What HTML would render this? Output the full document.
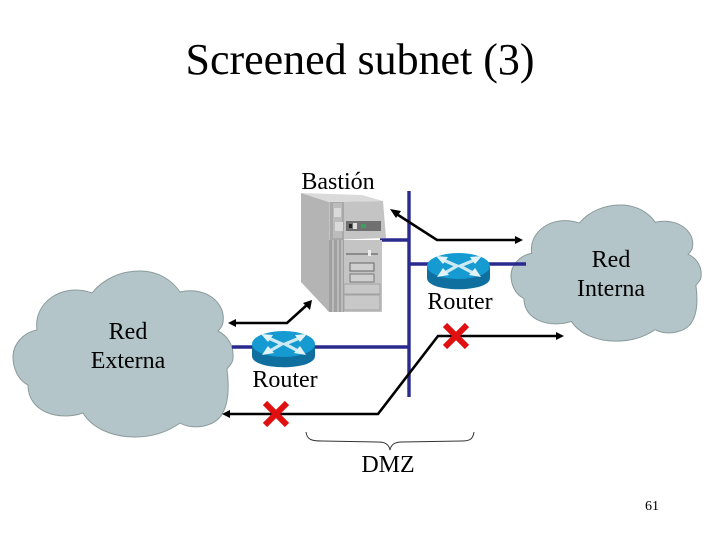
<!DOCTYPE html>
<html>
<head>
<meta charset="utf-8">
<style>
html,body{margin:0;padding:0;background:#fff}
svg{display:block}
text{font-family:"Liberation Serif",serif;fill:#000}
</style>
</head>
<body>
<svg width="720" height="540" viewBox="0 0 720 540" xmlns="http://www.w3.org/2000/svg">
<defs>
<path id="cloud" d="M92,293 C104,278 122,271 140,271 C158,271 172,280 180,292 C206,286 226,303 223,322 C223,326 220,329 218,331 C228,336 234,346 233,358 C233,363 229,366 227,369 C229,385 229,403 222,414 C216,426 194,431 180,423 C166,433 150,437 135,437 C112,437 92,428 83,413 C60,421 28,413 28,385 C18,380 13,368 13,357 C13,344 24,332 37,330 C33,303 62,282 92,293 Z"/>
<g id="router">
<path d="M0,13 L0,25 C0,40 63,40 63,25 L63,13 Z" fill="#0f6f9f"/>
<ellipse cx="31.5" cy="13" rx="31.5" ry="13" fill="#159ad2"/>
<g stroke="#cdeaf2" stroke-width="3.2" fill="none">
<path d="M14,6 L30,13 L16,21"/>
<path d="M50,6 L33,13 L48,21"/>
</g>
<g fill="#e2f3f7">
<polygon points="9,3 21,4 16,11"/>
<polygon points="55,3 43,4 48,11"/>
<polygon points="10,24 22,22 16,15"/>
<polygon points="54,24 42,22 48,15"/>
</g>
</g>
<g id="x"><path d="M-11,-11 L11,11 M11,-11 L-11,11" stroke="#e01010" stroke-width="6" fill="none"/></g>
</defs>

<text x="360" y="74" font-size="44" text-anchor="middle" textLength="349" lengthAdjust="spacingAndGlyphs">Screened subnet (3)</text>

<!-- clouds -->
<use href="#cloud" fill="#b3c5c8" stroke="#8b9b9c" stroke-width="1"/>
<g transform="translate(511,205) scale(.864,.82) translate(-13,-271)">
<use href="#cloud" fill="#b3c5c8" stroke="#8b9b9c" stroke-width="1.2"/>
</g>

<!-- blue lines -->
<g stroke="#2a2a8e" stroke-width="3.4" fill="none">
<path d="M409,191 V397"/>
<path d="M380,240 H409"/>
<path d="M409,264 H526"/>
<path d="M232,347 H409"/>
</g>

<!-- server -->
<polygon points="301,193 329,202 329,312 301,282" fill="#b4b4b4"/>
<polygon points="329,202 383,201 386,238 329,240" fill="#c4c4c4"/>
<polygon points="301,193 329,202 383,201 362,195" fill="#dadada"/>
<polygon points="329,240 382,240 382,312 329,312" fill="#c4c4c4"/>
<rect x="330" y="202" width="14" height="38" fill="#a8a8a8"/>
<rect x="333" y="203" width="9" height="35" fill="#bcbcbc"/>
<rect x="334" y="208" width="7" height="9" fill="#dadada"/>
<rect x="335" y="222" width="8" height="9" fill="#dadada"/>
<rect x="329" y="240" width="15" height="72" fill="#a0a0a0"/>
<path d="M333,240 V312 M338,240 V312 M342,240 V312" stroke="#d4d4d4" stroke-width="1"/>
<rect x="346" y="221" width="35" height="10" fill="#707070"/>
<rect x="349" y="224" width="3" height="4" fill="#222"/>
<rect x="353" y="223" width="4" height="6" fill="#ddd"/>
<rect x="361" y="224" width="5" height="4" fill="#3f9f5f"/>
<path d="M346,254 H378" stroke="#777" stroke-width="1.5"/>
<rect x="368" y="250" width="3" height="6" fill="#eee"/>
<rect x="350" y="263" width="24" height="8" fill="#cfcfcf" stroke="#666"/>
<rect x="350" y="274" width="24" height="8" fill="#cfcfcf" stroke="#777"/>
<rect x="344" y="284" width="36" height="10" fill="#c8c8c8" stroke="#a2a2a2"/>
<rect x="344" y="295" width="36" height="15" fill="#c8c8c8" stroke="#a2a2a2"/>

<!-- routers -->
<use href="#router" x="427" y="253"/>
<use href="#router" x="252" y="331"/>

<!-- black arrows -->
<g stroke="#000" stroke-width="2.6" fill="none">
<path d="M395,213 L437,240 H516"/>
<path d="M234,323 H287 L308,304"/>
<path d="M229,414 H378 L438,336 H557"/>
</g>
<g fill="#000">
<polygon points="390,209 401,211 396,218"/>
<polygon points="523,240 515,236 515,244"/>
<polygon points="312,300 310,310 303,303"/>
<polygon points="228,323 236,319 236,327"/>
<polygon points="222,414 230,410 230,418"/>
<polygon points="564,336 556,332 556,340"/>
</g>

<use href="#x" x="456" y="336"/>
<use href="#x" x="276" y="414"/>

<!-- brace -->
<path d="M306,432 C307,440 312,441 322,441 L378,442 C386,442 389,445 390,450 C391,445 394,442 402,442 L462,441 C470,441 473,439 474,432" fill="none" stroke="#333" stroke-width="1"/>

<!-- labels -->
<g font-size="24">
<text x="338" y="189" text-anchor="middle">Bastión</text>
<text x="460" y="309" text-anchor="middle">Router</text>
<text x="285" y="387" text-anchor="middle">Router</text>
<text x="388" y="472" text-anchor="middle">DMZ</text>
<text x="128" y="339" text-anchor="middle">Red</text>
<text x="128" y="368" text-anchor="middle">Externa</text>
<text x="611" y="267" text-anchor="middle">Red</text>
<text x="611" y="296" text-anchor="middle">Interna</text>
</g>
<text x="652" y="510" font-size="14" text-anchor="middle">61</text>
</svg>
</body>
</html>
